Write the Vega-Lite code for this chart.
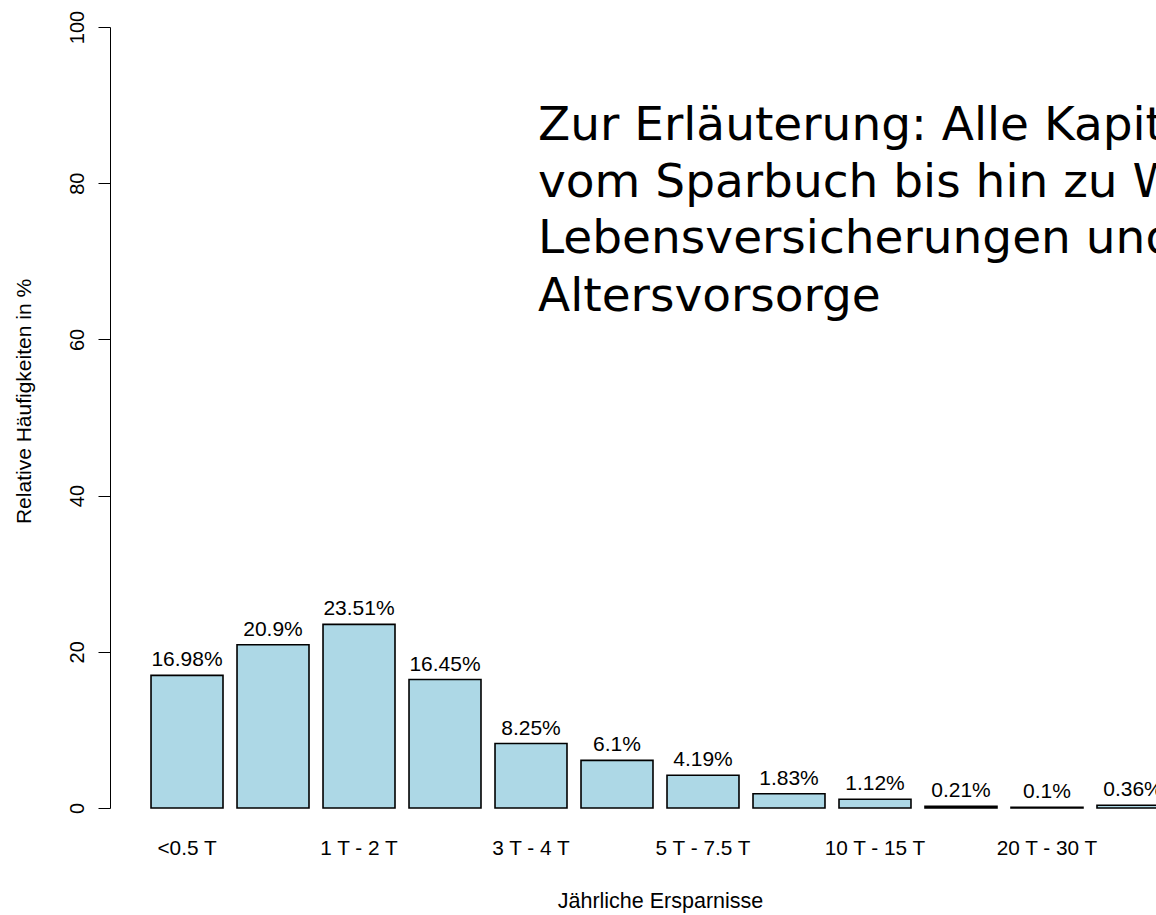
{
  "$schema": "https://vega.github.io/schema/vega-lite/v6.json",
  "width": 1100,
  "height": 781,
  "autosize": {"type": "none"},
  "padding": {"left": 110, "top": 27, "right": 0, "bottom": 107},
  "background": "white",
  "config": {"view": {"stroke": null}, "font": "Liberation Sans"},
  "datasets": {
    "bars": [
      {"klasse": "<0.5 T", "anteil": 16.98, "label": "16.98%"},
      {"klasse": "0.5 T - 1 T", "anteil": 20.9, "label": "20.9%"},
      {"klasse": "1 T - 2 T", "anteil": 23.51, "label": "23.51%"},
      {"klasse": "2 T - 3 T", "anteil": 16.45, "label": "16.45%"},
      {"klasse": "3 T - 4 T", "anteil": 8.25, "label": "8.25%"},
      {"klasse": "4 T - 5 T", "anteil": 6.1, "label": "6.1%"},
      {"klasse": "5 T - 7.5 T", "anteil": 4.19, "label": "4.19%"},
      {"klasse": "7.5 T - 10 T", "anteil": 1.83, "label": "1.83%"},
      {"klasse": "10 T - 15 T", "anteil": 1.12, "label": "1.12%"},
      {"klasse": "15 T - 20 T", "anteil": 0.21, "label": "0.21%"},
      {"klasse": "20 T - 30 T", "anteil": 0.1, "label": "0.1%"},
      {"klasse": "> 30 T", "anteil": 0.36, "label": "0.36%"}
    ],
    "notes": [
      {"klasse": "3 T - 4 T", "pos": 85.5, "zeile": "Zur Erläuterung: Alle Kapitalanlagen,"},
      {"klasse": "3 T - 4 T", "pos": 78.2, "zeile": "vom Sparbuch bis hin zu Wertpapieren,"},
      {"klasse": "3 T - 4 T", "pos": 71.05, "zeile": "Lebensversicherungen und private"},
      {"klasse": "3 T - 4 T", "pos": 63.6, "zeile": "Altersvorsorge"}
    ]
  },
  "layer": [
    {
      "data": {"name": "bars"},
      "mark": {"type": "bar", "fill": "#ADD8E6", "stroke": "black", "strokeWidth": 1.6},
      "encoding": {
        "x": {
          "field": "klasse", "type": "nominal", "sort": null,
          "scale": {"paddingInner": 0.163, "paddingOuter": 0.477},
          "axis": {
            "title": "Jährliche Ersparnisse", "titleFontSize": 21.5, "titleFontWeight": "normal",
            "titleColor": "black", "titlePadding": 33,
            "domain": false, "ticks": false, "tickSize": 0, "labelAngle": 0,
            "labelPadding": 30, "labelFontSize": 20.8, "labelColor": "black",
            "labelOverlap": "parity"
          }
        },
        "y": {
          "field": "anteil", "type": "quantitative",
          "scale": {"domain": [0, 100], "nice": false},
          "axis": {
            "values": [0, 20, 40, 60, 80, 100], "grid": false,
            "tickSize": 12, "tickColor": "black", "tickWidth": 1,
            "domainColor": "black", "domainWidth": 1,
            "labelAngle": -90, "labelAlign": "center", "labelBaseline": "alphabetic",
            "labelPadding": 15, "labelFontSize": 20, "labelColor": "black",
            "labelFlush": false, "labelOverlap": false,
            "title": "Relative Häufigkeiten in %", "titleFontSize": 21,
            "titleFontWeight": "normal", "titleColor": "black", "titlePadding": 33,
            "titleY": 374
          }
        }
      }
    },
    {
      "data": {"name": "bars"},
      "mark": {"type": "text", "baseline": "alphabetic", "dy": -9, "fontSize": 21, "color": "black"},
      "encoding": {
        "x": {"field": "klasse", "type": "nominal", "sort": null},
        "y": {"field": "anteil", "type": "quantitative"},
        "text": {"field": "label"}
      }
    },
    {
      "data": {"name": "notes"},
      "mark": {"type": "text", "align": "left", "baseline": "alphabetic", "dx": 43, "font": "DejaVu Sans", "fontSize": 47, "color": "black"},
      "encoding": {
        "x": {"field": "klasse", "type": "nominal", "sort": null, "bandPosition": 0},
        "y": {"field": "pos", "type": "quantitative"},
        "text": {"field": "zeile"}
      }
    }
  ]
}
